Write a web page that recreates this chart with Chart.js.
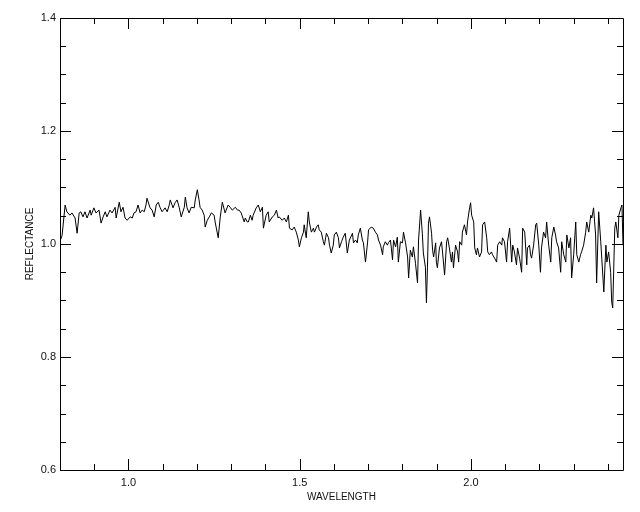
<!DOCTYPE html>
<html>
<head>
<meta charset="utf-8">
<script src="https://cdn.jsdelivr.net/npm/chart.js@4.4.1/dist/chart.umd.min.js"></script>
<style>
  html, body { margin: 0; padding: 0; background: #fff; }
  #wrap { width: 640px; height: 512px; }
</style>
</head>
<body>
<div id="wrap"><canvas id="spec" width="640" height="512"></canvas></div>
<script>
const WAVELENGTH = [
  0.800, 0.806, 0.815, 0.820, 0.829, 0.835, 0.844, 0.850, 0.856, 0.861, 0.867, 0.873, 0.879, 0.888, 0.891, 0.899,
  0.905, 0.914, 0.920, 0.926, 0.932, 0.937, 0.946, 0.952, 0.961, 0.964, 0.973, 0.978, 0.984, 0.990, 0.996, 1.005,
  1.011, 1.016, 1.022, 1.028, 1.034, 1.040, 1.046, 1.051, 1.054, 1.063, 1.069, 1.075, 1.081, 1.087, 1.092, 1.098,
  1.107, 1.113, 1.119, 1.122, 1.130, 1.136, 1.142, 1.148, 1.154, 1.163, 1.166, 1.171, 1.177, 1.183, 1.192, 1.195,
  1.201, 1.206, 1.209, 1.215, 1.221, 1.224, 1.230, 1.236, 1.242, 1.250, 1.253, 1.262, 1.268, 1.274, 1.280, 1.282,
  1.291, 1.297, 1.303, 1.312, 1.318, 1.323, 1.329, 1.338, 1.341, 1.347, 1.350, 1.356, 1.361, 1.364, 1.373, 1.379,
  1.385, 1.391, 1.394, 1.402, 1.408, 1.411, 1.420, 1.426, 1.432, 1.437, 1.440, 1.449, 1.455, 1.461, 1.467, 1.470,
  1.478, 1.484, 1.490, 1.496, 1.499, 1.505, 1.511, 1.513, 1.519, 1.525, 1.528, 1.534, 1.540, 1.543, 1.549, 1.554,
  1.557, 1.563, 1.569, 1.572, 1.578, 1.584, 1.587, 1.592, 1.598, 1.601, 1.607, 1.613, 1.616, 1.622, 1.627, 1.633,
  1.639, 1.645, 1.654, 1.657, 1.663, 1.668, 1.671, 1.677, 1.683, 1.686, 1.692, 1.698, 1.701, 1.709, 1.715, 1.721,
  1.727, 1.730, 1.736, 1.742, 1.744, 1.750, 1.756, 1.759, 1.765, 1.771, 1.774, 1.780, 1.785, 1.788, 1.794, 1.800,
  1.803, 1.809, 1.815, 1.818, 1.823, 1.829, 1.832, 1.838, 1.844, 1.847, 1.853, 1.858, 1.861, 1.867, 1.870, 1.873,
  1.876, 1.879, 1.885, 1.888, 1.891, 1.897, 1.899, 1.902, 1.908, 1.914, 1.917, 1.923, 1.929, 1.932, 1.937, 1.943,
  1.946, 1.949, 1.955, 1.961, 1.964, 1.967, 1.973, 1.975, 1.981, 1.987, 1.990, 1.996, 1.999, 2.002, 2.008, 2.011,
  2.016, 2.019, 2.025, 2.031, 2.034, 2.040, 2.046, 2.049, 2.054, 2.060, 2.063, 2.069, 2.075, 2.078, 2.084, 2.090,
  2.092, 2.098, 2.104, 2.107, 2.113, 2.119, 2.122, 2.127, 2.133, 2.136, 2.142, 2.148, 2.151, 2.157, 2.163, 2.165,
  2.171, 2.174, 2.177, 2.183, 2.189, 2.192, 2.198, 2.203, 2.206, 2.212, 2.218, 2.221, 2.227, 2.233, 2.236, 2.242,
  2.247, 2.250, 2.256, 2.262, 2.265, 2.271, 2.277, 2.280, 2.286, 2.291, 2.294, 2.300, 2.306, 2.309, 2.315, 2.320,
  2.323, 2.329, 2.335, 2.338, 2.344, 2.350, 2.353, 2.358, 2.364, 2.367, 2.373, 2.379, 2.382, 2.388, 2.394, 2.397,
  2.402, 2.408, 2.411, 2.414, 2.420, 2.423, 2.429, 2.432, 2.438, 2.441, 2.444
];

const REFLECTANCE = [
  1.005, 1.015, 1.069, 1.057, 1.051, 1.055, 1.046, 1.019, 1.055, 1.057, 1.048, 1.057, 1.046, 1.060, 1.051, 1.064,
  1.055, 1.060, 1.037, 1.048, 1.057, 1.048, 1.060, 1.055, 1.065, 1.046, 1.074, 1.057, 1.065, 1.046, 1.042, 1.048,
  1.046, 1.055, 1.057, 1.069, 1.055, 1.060, 1.057, 1.069, 1.081, 1.064, 1.060, 1.048, 1.069, 1.074, 1.065, 1.057,
  1.064, 1.057, 1.069, 1.078, 1.064, 1.073, 1.078, 1.065, 1.048, 1.065, 1.083, 1.064, 1.055, 1.065, 1.064, 1.078,
  1.096, 1.078, 1.065, 1.060, 1.051, 1.030, 1.042, 1.048, 1.055, 1.051, 1.039, 1.011, 1.048, 1.074, 1.060, 1.055,
  1.069, 1.065, 1.060, 1.065, 1.060, 1.060, 1.055, 1.039, 1.046, 1.039, 1.039, 1.051, 1.042, 1.051, 1.064, 1.069,
  1.057, 1.065, 1.028, 1.051, 1.057, 1.039, 1.048, 1.051, 1.060, 1.046, 1.048, 1.042, 1.046, 1.039, 1.051, 1.028,
  1.025, 1.030, 1.021, 1.007, 0.995, 1.011, 1.021, 1.034, 1.011, 1.057, 1.039, 1.021, 1.028, 1.021, 1.030, 1.034,
  1.025, 1.021, 1.004, 0.998, 1.019, 1.011, 0.998, 0.984, 0.998, 1.016, 1.021, 1.011, 0.993, 1.004, 1.012, 1.019,
  0.984, 1.007, 1.019, 1.002, 1.007, 1.002, 1.016, 1.028, 1.007, 1.002, 0.968, 1.002, 1.025, 1.030, 1.028, 1.021,
  1.016, 1.007, 0.998, 0.981, 0.995, 1.004, 0.998, 1.002, 1.007, 0.972, 1.007, 0.995, 1.012, 0.968, 1.004, 1.002,
  1.021, 1.002, 0.977, 0.940, 0.989, 0.977, 0.995, 0.966, 0.931, 1.007, 1.060, 1.019, 0.984, 0.959, 0.896, 0.959,
  1.037, 1.048, 1.019, 0.989, 0.977, 1.002, 0.968, 0.958, 0.993, 1.004, 0.986, 0.945, 1.004, 1.011, 0.993, 0.968,
  0.986, 0.958, 0.998, 0.986, 0.968, 1.004, 0.998, 1.021, 1.034, 1.016, 1.039, 1.064, 1.073, 1.051, 1.039, 0.993,
  0.981, 0.993, 0.977, 0.986, 1.034, 1.039, 1.011, 0.986, 0.981, 0.986, 0.981, 0.975, 0.968, 0.998, 1.004, 0.998,
  1.011, 1.004, 0.968, 1.004, 1.028, 0.968, 0.998, 0.986, 0.963, 0.993, 0.975, 0.950, 1.028, 1.021, 0.963, 0.993,
  0.998, 0.981, 0.975, 0.998, 1.034, 1.037, 0.998, 0.950, 0.993, 1.021, 1.011, 1.039, 0.998, 0.968, 1.011, 1.030,
  1.016, 1.004, 0.993, 0.950, 1.004, 0.981, 0.968, 1.016, 0.993, 1.011, 0.940, 0.981, 1.039, 0.981, 0.968, 0.981,
  0.986, 0.998, 1.021, 1.039, 1.021, 1.051, 1.046, 1.064, 1.016, 0.931, 1.057, 1.004, 0.975, 0.915, 0.998, 0.968,
  0.986, 0.950, 0.897, 0.887, 1.028, 1.039, 1.011, 1.051, 1.064, 1.069, 0.998
];

const X_RANGE = [0.8, 2.444];
const Y_RANGE = [0.6, 1.4];
const X_LABELS = [1.0, 1.5, 2.0];
const X_MINOR = [0.9, 1.1, 1.2, 1.3, 1.4, 1.6, 1.7, 1.8, 1.9, 2.1, 2.2, 2.3, 2.4];
const Y_LABELS = [0.6, 0.8, 1.0, 1.2, 1.4];
const Y_MINOR = [0.65, 0.7, 0.75, 0.85, 0.9, 0.95, 1.05, 1.1, 1.15, 1.25, 1.3, 1.35];

const FONT = "'Liberation Sans', Arial, sans-serif";

// IDL-style frame: box all round, ticks pointing inward on all four sides
const framePlugin = {
  id: "frame",
  afterDraw(chart) {
    const { ctx, chartArea: a, scales } = chart;
    const xs = scales.x, ys = scales.y;
    ctx.save();
    ctx.strokeStyle = "#000";
    ctx.lineWidth = 1;
    ctx.beginPath();
    ctx.rect(Math.round(a.left) + 0.5, Math.round(a.top) + 0.5,
      Math.round(a.right - a.left), Math.round(a.bottom - a.top));

    const xTick = (v, len) => {
      const px = Math.round(xs.getPixelForValue(v)) + 0.5;
      ctx.moveTo(px, a.bottom); ctx.lineTo(px, a.bottom - len);
      ctx.moveTo(px, a.top); ctx.lineTo(px, a.top + len);
    };
    const yTick = (v, len) => {
      const py = Math.round(ys.getPixelForValue(v)) + 0.5;
      ctx.moveTo(a.left, py); ctx.lineTo(a.left + len, py);
      ctx.moveTo(a.right, py); ctx.lineTo(a.right - len, py);
    };
    X_LABELS.forEach((v) => xTick(v, 11));
    X_MINOR.forEach((v) => xTick(v, 6));
    Y_LABELS.forEach((v) => yTick(v, 11));
    Y_MINOR.forEach((v) => yTick(v, 6));
    ctx.stroke();

    ctx.fillStyle = "#111";
    ctx.font = "10px " + FONT;
    ctx.textAlign = "center";
    ctx.textBaseline = "middle";
    ctx.fillText("WAVELENGTH", (a.left + a.right) / 2, 497);
    ctx.translate(30, (a.top + a.bottom) / 2);
    ctx.rotate(-Math.PI / 2);
    ctx.fillText("REFLECTANCE", 0, 0);
    ctx.restore();
  }
};

new Chart(document.getElementById("spec"), {
  type: "line",
  data: {
    datasets: [
      {
        data: WAVELENGTH.map((w, i) => ({ x: w, y: REFLECTANCE[i] })),
        borderColor: "#000",
        borderWidth: 1,
        pointRadius: 0,
        tension: 0,
        fill: false
      }
    ]
  },
  options: {
    responsive: false,
    animation: false,
    devicePixelRatio: 1,
    layout: { padding: { top: 18, right: 17, left: 0, bottom: 0 } },
    plugins: { legend: { display: false }, tooltip: { enabled: false } },
    scales: {
      x: {
        type: "linear",
        min: X_RANGE[0],
        max: X_RANGE[1],
        grid: { display: false, drawTicks: false },
        border: { display: false },
        afterBuildTicks: (s) => { s.ticks = X_LABELS.map((v) => ({ value: v })); },
        afterFit: (s) => { s.height = 42; },
        ticks: {
          color: "#111",
          padding: 6,
          maxRotation: 0,
          font: { family: FONT, size: 11 },
          callback: (v) => Number(v).toFixed(1)
        }
      },
      y: {
        min: Y_RANGE[0],
        max: Y_RANGE[1],
        grid: { display: false, drawTicks: false },
        border: { display: false },
        afterBuildTicks: (s) => { s.ticks = Y_LABELS.map((v) => ({ value: v })); },
        afterFit: (s) => { s.width = 60; },
        ticks: {
          color: "#111",
          padding: 4,
          font: { family: FONT, size: 11 },
          callback: (v) => Number(v).toFixed(1)
        }
      }
    }
  },
  plugins: [framePlugin]
});
</script>
</body>
</html>
